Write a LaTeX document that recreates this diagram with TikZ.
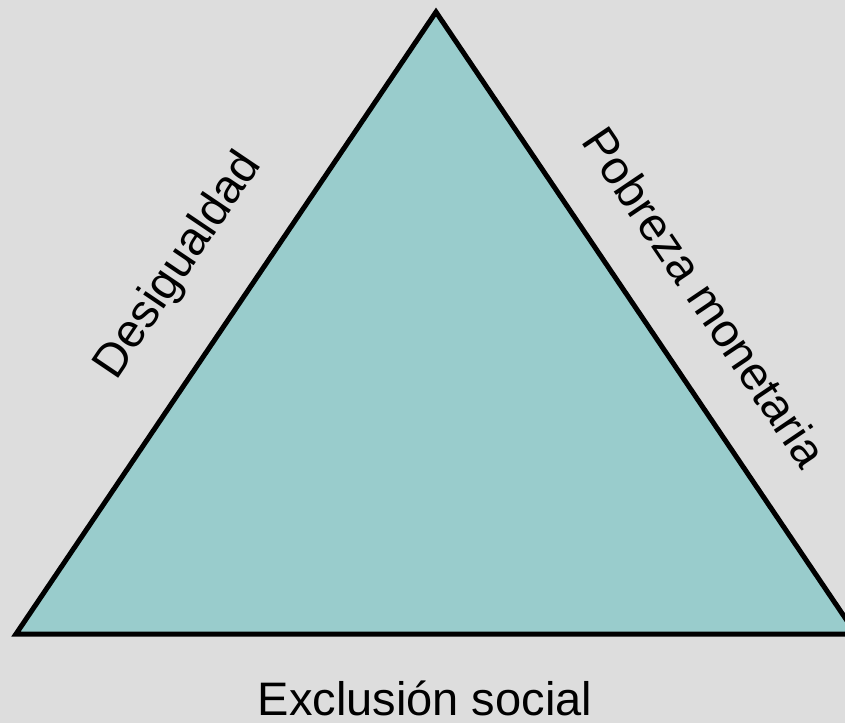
\documentclass[tikz,border=0pt]{standalone}
\usepackage{fontspec}
\setmainfont{Liberation Sans}
\definecolor{bggray}{HTML}{DDDDDD}
\definecolor{tealfill}{HTML}{99CCCC}
\tikzset{
  side/.style={font=\fontsize{47}{56}\selectfont, inner sep=0pt},
}
\begin{document}
\begin{tikzpicture}[x=1pt,y=-1pt]
\clip (0,0) rectangle (845,723);
\fill[bggray] (0,0) rectangle (845,723);
% the triangle
\coordinate (apex) at (436,12);
\coordinate (bl) at (16,634);
\coordinate (br) at (856,634);
\draw[line width=5pt, fill=tealfill, line join=miter] (apex) -- (bl) -- (br) -- cycle;
% labels of the sides
\node[side, rotate=56] (desig) at (179,266) {Desigualdad};
\node[side, rotate=-56] (pobreza) at (705,297) {Pobreza monetaria};
\node[side, anchor=base] (exclusion) at (425,715) {Exclusión social};
\end{tikzpicture}
\end{document}
